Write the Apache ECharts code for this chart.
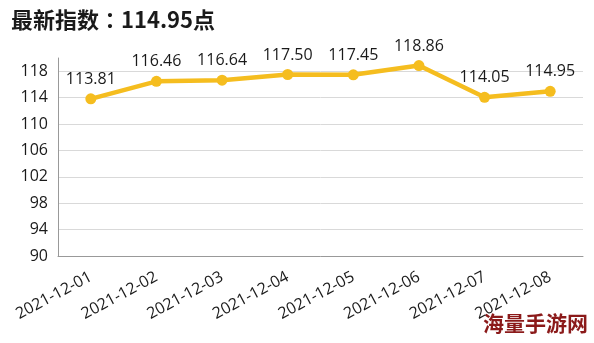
<!DOCTYPE html>
<html>
<head>
<meta charset="utf-8">
<script src="https://cdn.jsdelivr.net/npm/echarts@6/dist/echarts.min.js"></script>
<style>
html, body { margin: 0; padding: 0; background: #fff; }
#main { width: 594px; height: 343px; }
</style>
</head>
<body>
<div id="main"></div>
<script>
var dates = ['2021-12-01', '2021-12-02', '2021-12-03', '2021-12-04', '2021-12-05', '2021-12-06', '2021-12-07', '2021-12-08'];
var values = [113.81, 116.46, 116.64, 117.50, 117.45, 118.86, 114.05, 114.95];
var titleText = '最新指数：114.95点';
var watermark = '海量手游网';

var myChart = echarts.init(document.getElementById('main'));
var option = {
    animation: false,
    title: {
        text: titleText,
        left: 6,
        top: 4,
        textStyle: {
            fontFamily: 'Noto Sans CJK TC',
            fontSize: 22,
            fontWeight: 'bold',
            color: '#1a1a1a'
        }
    },
    grid: { left: 58, right: 11, top: 58, bottom: 87 },
    xAxis: {
        type: 'category',
        data: dates,
        axisLine: { lineStyle: { color: '#999', width: 1 } },
        axisTick: { show: false },
        axisLabel: {
            rotate: 28,
            interval: 0,
            margin: 20,
            fontSize: 16,
            fontFamily: 'Open Sans',
            color: '#1a1a1a'
        }
    },
    yAxis: {
        type: 'value',
        min: 90,
        max: 120,
        interval: 4,
        axisLine: { show: true, lineStyle: { color: '#999', width: 1 } },
        axisTick: { show: false },
        axisLabel: {
            showMaxLabel: false,
            margin: 10,
            fontSize: 16,
            fontFamily: 'Open Sans',
            color: '#1a1a1a'
        },
        splitLine: { showMaxLine: false, lineStyle: { color: '#d9d9d9' } }
    },
    series: [{
        type: 'line',
        data: values,
        symbol: 'circle',
        symbolSize: 11,
        lineStyle: { color: '#f5bd1f', width: 4.5 },
        itemStyle: { color: '#f5bd1f' },
        label: {
            show: true,
            position: 'top',
            distance: 6,
            fontSize: 16,
            fontFamily: 'Open Sans',
            color: '#1a1a1a',
            formatter: function (p) { return p.value.toFixed(2); }
        }
    }],
    graphic: [{
        type: 'text',
        right: 6,
        bottom: 9,
        style: {
            text: watermark,
            fontFamily: 'Noto Sans CJK SC',
            fontSize: 21,
            fontWeight: 'bold',
            fill: '#8b1a1a'
        }
    }]
};
myChart.setOption(option);
</script>
</body>
</html>
